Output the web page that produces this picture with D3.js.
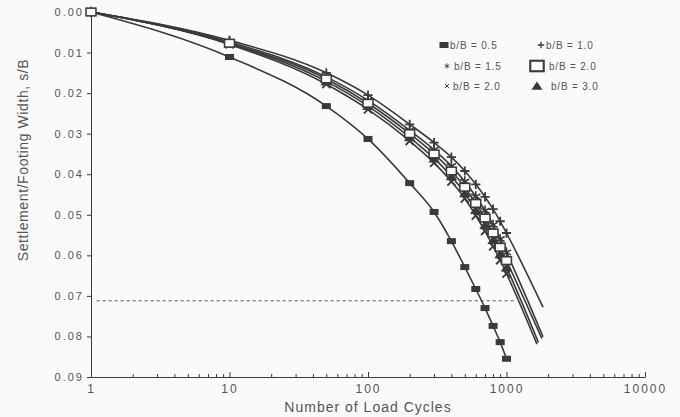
<!DOCTYPE html>
<html>
<head>
<meta charset="utf-8">
<script src="https://cdn.jsdelivr.net/npm/d3@7"></script>
<style>
  body { margin: 0; background: #fafafa; }
  svg { display: block; }
</style>
</head>
<body>
<div id="chart"></div>
<script>
// cycles at which the markers were read
const cycles = [1, 10, 50, 100, 200, 300, 400, 500, 600, 700, 800, 900, 1000];

// settlement / footing width, s/B
const sB05 = [0, 0.0111, 0.0232, 0.0313, 0.0422, 0.0493, 0.0565, 0.0629, 0.0683, 0.0730, 0.0774, 0.0814, 0.0855];
const sB10 = [0, 0.0070, 0.0150, 0.0205, 0.0277, 0.0322, 0.0358, 0.0392, 0.0425, 0.0456, 0.0486, 0.0516, 0.0545];
const sB15 = [0, 0.0074, 0.0160, 0.0218, 0.0292, 0.0340, 0.0380, 0.0418, 0.0455, 0.0490, 0.0525, 0.0560, 0.0593];
const sB20x = [0, 0.0080, 0.0178, 0.0240, 0.0318, 0.0372, 0.0418, 0.0460, 0.0502, 0.0540, 0.0578, 0.0612, 0.0645];
const sB20box = [0, 0.0077, 0.0165, 0.0225, 0.0300, 0.0350, 0.0392, 0.0432, 0.0472, 0.0508, 0.0545, 0.0580, 0.0613];
const sB30 = [0, 0.0078, 0.0171, 0.0232, 0.0309, 0.0361, 0.0405, 0.0447, 0.0488, 0.0525, 0.0562, 0.0597, 0.0630];

// where each fitted line stops (no marker there)
const endB10 = [1835, 0.0728];
const endB15 = [1835, 0.0801];
const endB20x = [1660, 0.0819];
const endB20box = [1800, 0.0805];
const endB30 = [1700, 0.0815];

// dotted reference line
const refLevel = 0.0712;
const refFrom = 1.1, refTo = 1150;

const xTicks = [1, 10, 100, 1000, 10000];
const yTicks = [0, 0.01, 0.02, 0.03, 0.04, 0.05, 0.06, 0.07, 0.08, 0.09];

const width = 680, height = 417;
const bg = "#fafafa", ink = "#3a3a3a", textInk = "#555";

const x = d3.scaleLog().domain([1, 10000]).range([91, 645]);
const y = d3.scaleLinear().domain([0, 0.09]).range([12, 377]);

const svg = d3.select("#chart").append("svg")
  .attr("width", width)
  .attr("height", height)
  .style("font-family", "'Liberation Sans', Arial, sans-serif");

svg.append("rect").attr("width", width).attr("height", height).attr("fill", bg);

// axes
const yAxis = svg.append("g")
  .attr("transform", `translate(${x(1)},0)`)
  .call(d3.axisLeft(y).tickValues(yTicks).tickFormat(d3.format(".2f"))
    .tickSize(4).tickSizeOuter(0).tickPadding(3));
yAxis.select(".domain").attr("stroke", ink);
yAxis.selectAll(".tick line").attr("stroke", ink);
yAxis.selectAll(".tick text")
  .attr("fill", textInk)
  .style("font-size", "11px")
  .style("letter-spacing", "2px");

const minorTicks = [];
[1, 10, 100, 1000].forEach(d => d3.range(2, 10).forEach(k => minorTicks.push(k * d)));

const xMinor = svg.append("g")
  .attr("transform", `translate(0,${y(0.09)})`)
  .call(d3.axisBottom(x).tickValues(minorTicks).tickFormat("").tickSize(-3).tickSizeOuter(0));
xMinor.select(".domain").remove();
xMinor.selectAll(".tick line").attr("stroke", ink);

const xAxis = svg.append("g")
  .attr("transform", `translate(0,${y(0.09)})`)
  .call(d3.axisBottom(x).tickValues(xTicks).tickFormat(d3.format("d"))
    .tickSize(-5).tickSizeOuter(0).tickPadding(7));
xAxis.select(".domain").attr("stroke", ink);
xAxis.selectAll(".tick line").attr("stroke", ink);
xAxis.selectAll(".tick text")
  .attr("fill", textInk)
  .style("font-size", "12px")
  .style("letter-spacing", "2px");

// axis titles
svg.append("text")
  .attr("x", x(100))
  .attr("y", 412)
  .attr("text-anchor", "middle")
  .attr("fill", textInk)
  .style("font-size", "14px")
  .style("letter-spacing", "1px")
  .text("Number of Load Cycles");

svg.append("text")
  .attr("transform", "translate(28,160) rotate(-90)")
  .attr("text-anchor", "middle")
  .attr("fill", textInk)
  .style("font-size", "14px")
  .style("letter-spacing", "0.6px")
  .text("Settlement/Footing Width, s/B");

// dotted line
svg.append("line")
  .attr("x1", x(refFrom)).attr("x2", x(refTo))
  .attr("y1", y(refLevel)).attr("y2", y(refLevel))
  .attr("stroke", textInk)
  .attr("stroke-width", 1)
  .attr("stroke-dasharray", "3,3");

// markers
function marker(g, type, cx, cy, k = 1) {
  const m = g.append("g").attr("transform", `translate(${cx},${cy}) scale(${k})`);
  if (type === "rectFilled") {
    m.append("rect").attr("x", -4.5).attr("y", -3).attr("width", 9).attr("height", 6).attr("fill", ink);
  } else if (type === "plus") {
    m.append("path").attr("d", "M-4,0H4M0,-4V4").attr("stroke", ink).attr("stroke-width", 1.6);
  } else if (type === "star") {
    m.append("path").attr("d", "M0,-4.5V4.5M-3.9,-2.25L3.9,2.25M-3.9,2.25L3.9,-2.25")
      .attr("stroke", ink).attr("stroke-width", 1.4);
  } else if (type === "times") {
    m.append("path").attr("d", "M-3.5,-3.5L3.5,3.5M-3.5,3.5L3.5,-3.5").attr("stroke", ink).attr("stroke-width", 1.6);
  } else if (type === "rectOpen") {
    m.append("rect").attr("x", -4.5).attr("y", -3.5).attr("width", 9).attr("height", 7)
      .attr("fill", bg).attr("stroke", ink).attr("stroke-width", 1.4);
  } else if (type === "triangle") {
    m.append("path").attr("d", "M0,-4L5,3.5L-5,3.5Z").attr("fill", ink);
  }
}

const series = [
  { label: "b/B = 0.5", values: sB05, end: null, type: "rectFilled", k: 1 },
  { label: "b/B = 1.0", values: sB10, end: endB10, type: "plus", k: 1.15 },
  { label: "b/B = 1.5", values: sB15, end: endB15, type: "star", k: 1.15 },
  { label: "b/B = 3.0", values: sB30, end: endB30, type: "triangle", k: 1.15 },
  { label: "b/B = 2.0", values: sB20x, end: endB20x, type: "times", k: 1.15 },
  { label: "b/B = 2.0", values: sB20box, end: endB20box, type: "rectOpen", k: 1.1 }
];

const line = d3.line()
  .x(d => x(d[0]))
  .y(d => y(d[1]))
  .curve(d3.curveMonotoneX);

const plot = svg.append("g");
series.forEach(s => {
  const pts = cycles.map((c, i) => [c, s.values[i]]);
  if (s.end) pts.push(s.end);
  plot.append("path")
    .datum(pts)
    .attr("d", line)
    .attr("fill", "none")
    .attr("stroke", ink)
    .attr("stroke-width", 1.6);
});

series.forEach(s => {
  cycles.forEach((c, i) => marker(plot, s.type, x(c), y(s.values[i]), s.k));
});

// legend
const legendItems = [
  { type: "rectFilled", text: "b/B = 0.5", mx: 444, tx: 450, y: 45, k: 1 },
  { type: "plus", text: "b/B = 1.0", mx: 541, tx: 546, y: 45, k: 0.8 },
  { type: "star", text: "b/B = 1.5", mx: 447, tx: 454, y: 66, k: 0.6 },
  { type: "rectOpen", text: "b/B = 2.0", mx: 537, tx: 549, y: 66, k: 1.5 },
  { type: "times", text: "b/B = 2.0", mx: 447, tx: 453, y: 86, k: 0.6 },
  { type: "triangle", text: "b/B = 3.0", mx: 537, tx: 551, y: 86, k: 1.1 }
];

const legend = svg.append("g");
legendItems.forEach(d => {
  marker(legend, d.type, d.mx, d.y, d.k);
  legend.append("text")
    .attr("x", d.tx)
    .attr("y", d.y + 3.5)
    .attr("fill", textInk)
    .style("font-size", "10px")
    .style("letter-spacing", "0.8px")
    .text(d.text);
});
</script>
</body>
</html>
